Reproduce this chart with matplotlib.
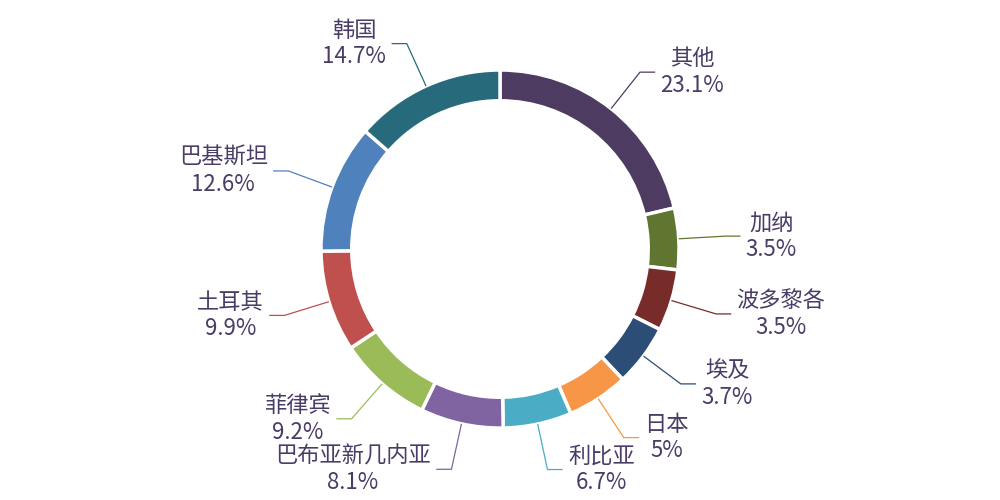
import matplotlib
matplotlib.use('Agg')
import matplotlib.pyplot as plt
import numpy as np

plt.rcParams['font.family'] = ['Noto Sans CJK SC', 'DejaVu Sans']

# data, clockwise from 12 o'clock
countries = ['其他', '加纳', '波多黎各', '埃及', '日本', '利比亚',
             '巴布亚新几内亚', '菲律宾', '土耳其', '巴基斯坦', '韩国']
shares = [23.1, 3.5, 3.5, 3.7, 5, 6.7, 8.1, 9.2, 9.9, 12.6, 14.7]
colors = ['#4e3b62', '#5f7530', '#772c2a', '#2c4d75', '#f79646', '#4bacc6',
          '#8064a2', '#9bbb59', '#c0504d', '#4f81bd', '#276a7c']
text_color = '#4a3c66'

# small slices get a minimum angle, the rest share what is left
min_angle = 20.0
vals = np.array(shares, dtype=float)
angles = vals / vals.sum() * 360
small = angles < min_angle
rest = 360 - min_angle * small.sum()
angles = np.where(small, min_angle, vals / vals[~small].sum() * rest)

fig = plt.figure(figsize=(10, 5), dpi=100)
ax = fig.add_axes([0, 0, 1, 1])

ax.pie(angles, colors=colors, startangle=90, counterclock=False, radius=1.0,
       wedgeprops=dict(width=0.172, edgecolor='white', linewidth=2.5))

# pie resets the limits, so set them afterwards
ax.set_xlim(-2.793, 2.793)
ax.set_ylim(-1.402, 1.391)
ax.set_aspect('equal')
ax.axis('off')

# labels with leader lines
start = 90.0
for name, v, a, c in zip(countries, shares, angles, colors):
    mid = np.deg2rad(start - a / 2)
    start -= a
    x0, y0 = np.cos(mid), np.sin(mid)
    x1, y1 = 1.26 * x0, 1.26 * y0
    side = 1 if x0 >= 0 else -1
    x2 = x1 + side * 0.085
    ax.plot([x0, x1, x2], [y0, y1, y1], color=c, lw=0.9, solid_capstyle='butt')
    ax.text(x2 + side * 0.03, y1, f'{name}\n{v:g}%', color=text_color,
            fontsize=16, fontweight='light',
            ha='left' if side > 0 else 'right', va='center',
            multialignment='center', linespacing=1.2)

fig.savefig('out.png', dpi=100, facecolor='white')
